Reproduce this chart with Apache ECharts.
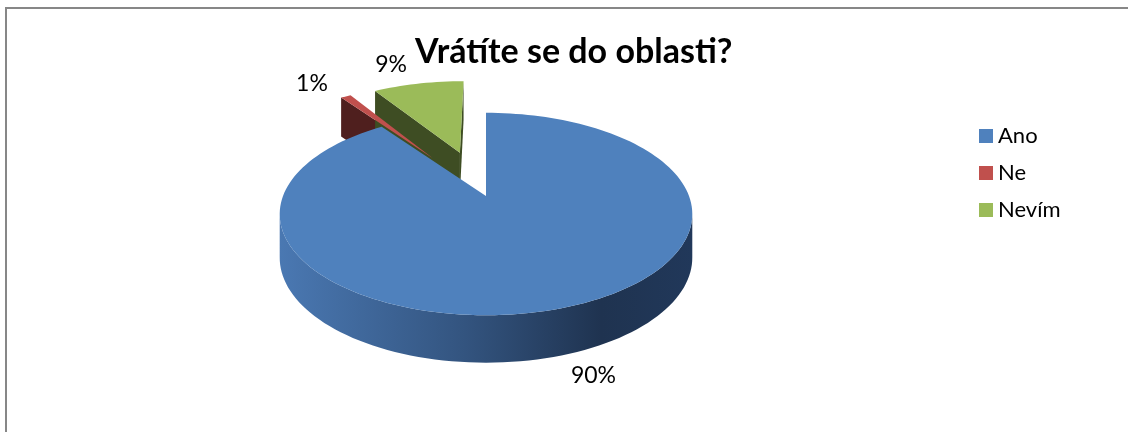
<!DOCTYPE html>
<html>
<head>
<meta charset="utf-8">
<title>Vrátíte se do oblasti?</title>
<script src="https://cdn.jsdelivr.net/npm/echarts@6/dist/echarts.min.js"></script>
<style>
    html, body { margin: 0; padding: 0; background: #fff; }
    #chart { width: 1128px; height: 432px; }
</style>
</head>
<body>
<div id="chart"></div>
<script>
// data
const categories = ['Ano', 'Ne', 'Nevím'];
const values = [90, 1, 9];

// styles
const TOP_COLORS = ['#4f81bd', '#c0504d', '#9bbb59'];
const SIDE_COLORS = ['#2c4970', '#4f1f1e', '#3e4d23'];
const EXPLODE = [0, 0.5, 0.5];
const FONT = 'Lato, "Open Sans", sans-serif';

// fake 3D projection of the pie disc
const CX = 486;
const CY = 196;
const RX = 203;
const RY = 98;
const PERSP = 0.178;
const DEPTH = 43;
const LABEL_GAP = 22;

const total = values.reduce((a, b) => a + b, 0);
const starts = [];
let acc = 0;
values.forEach(v => {
    starts.push(acc / total * 360);
    acc += v;
});

const project = (X, Z, bottom) => {
    let f = 1 / (1 + PERSP * Z);
    return [CX + RX * X * f, CY - RY * Z * f + (bottom ? DEPTH * Math.sqrt(f) : 0)];
};

// angle in degrees, clockwise from 12 o'clock
const rimPoint = (deg, off, bottom) => {
    let t = deg * Math.PI / 180;
    return project(off[0] + Math.sin(t), off[1] + Math.cos(t), bottom);
};

// signed area in screen coords, negative = facing the viewer
const area = (pts) => {
    let s = 0;
    for (let i = 0; i < pts.length; i++) {
        let p = pts[i], q = pts[(i + 1) % pts.length];
        s += p[0] * q[1] - q[0] * p[1];
    }
    return s / 2;
};

const wallFill = (idx) => {
    if (idx === 0) {
        return new echarts.graphic.LinearGradient(0, 0, 1, 0, [
            { offset: 0, color: '#4a78b2' },
            { offset: 0.45, color: '#33547f' },
            { offset: 0.78, color: '#1f3350' },
            { offset: 1, color: '#21385a' }
        ]);
    }
    return SIDE_COLORS[idx];
};

const renderSlice = (idx) => (params, api) => {
    let a1 = starts[idx];
    let a2 = a1 + api.value(0) / total * 360;
    let mid = (a1 + a2) / 2 * Math.PI / 180;
    let off = [EXPLODE[idx] * Math.sin(mid), EXPLODE[idx] * Math.cos(mid)];
    let n = Math.max(2, Math.ceil((a2 - a1) / 2));
    let arcT = [], arcB = [];
    for (let k = 0; k <= n; k++) {
        let a = a1 + (a2 - a1) * k / n;
        arcT.push(rimPoint(a, off, false));
        arcB.push(rimPoint(a, off, true));
    }
    let apexT = project(off[0], off[1], false);
    let apexB = project(off[0], off[1], true);
    let children = [];

    // outer wall, only the part that faces us
    let run = null;
    const flush = () => {
        if (run) {
            children.push({
                type: 'polygon',
                shape: { points: run.top.concat(run.bot.reverse()) },
                style: { fill: wallFill(idx) },
                z2: 1
            });
        }
        run = null;
    };
    for (let k = 0; k < n; k++) {
        let quad = [arcT[k], arcT[k + 1], arcB[k + 1], arcB[k]];
        if (area(quad) < 0) {
            if (!run) run = { top: [arcT[k]], bot: [arcB[k]] };
            run.top.push(arcT[k + 1]);
            run.bot.push(arcB[k + 1]);
        } else {
            flush();
        }
    }
    flush();

    // cut faces
    let faces = [
        [apexT, arcT[0], arcB[0], apexB],
        [arcT[n], apexT, apexB, arcB[n]]
    ];
    faces.forEach(f => {
        if (area(f) < 0) {
            children.push({
                type: 'polygon',
                shape: { points: f },
                style: { fill: SIDE_COLORS[idx] },
                z2: 2
            });
        }
    });

    // top face
    children.push({
        type: 'polygon',
        shape: { points: [apexT].concat(arcT) },
        style: { fill: TOP_COLORS[idx] },
        z2: 3
    });

    // percent label just outside the slice
    let near = Math.cos(mid) < 0;
    let edge = project(off[0] + Math.sin(mid), off[1] + Math.cos(mid), near);
    let dx = edge[0] - CX, dy = edge[1] - CY;
    let len = Math.sqrt(dx * dx + dy * dy);
    children.push({
        type: 'text',
        style: {
            text: Math.round(api.value(0) / total * 100) + '%',
            x: edge[0] + dx / len * LABEL_GAP,
            y: edge[1] + dy / len * LABEL_GAP,
            align: dx < 0 ? 'right' : 'left',
            verticalAlign: 'middle',
            fill: '#000',
            font: '23px ' + FONT
        },
        z2: 5
    });

    return { type: 'group', children };
};

// exploded slices sit behind, the big one is drawn last
const series = categories.map((name, i) => ({
    name,
    type: 'custom',
    coordinateSystem: 'none',
    z: i === 0 ? 3 : 2,
    itemStyle: { color: TOP_COLORS[i] },
    renderItem: renderSlice(i),
    data: [[values[i]]]
}));

const chart = echarts.init(document.getElementById('chart'));
chart.setOption({
    animation: false,
    title: {
        text: 'Vrátíte se do oblasti?',
        left: 410,
        top: 30,
        textStyle: {
            fontFamily: FONT,
            fontWeight: 'bold',
            fontSize: 34,
            color: '#000'
        }
    },
    legend: {
        data: categories,
        orient: 'vertical',
        left: 974,
        top: 119,
        icon: 'rect',
        itemWidth: 14,
        itemHeight: 14,
        itemGap: 13,
        textStyle: {
            fontFamily: FONT,
            fontSize: 22,
            lineHeight: 24,
            color: '#000'
        }
    },
    graphic: [{
        type: 'rect',
        shape: { x: 6, y: 8, width: 1200, height: 500 },
        style: { fill: 'none', stroke: '#878787', lineWidth: 2 },
        silent: true
    }],
    series
});
</script>
</body>
</html>
